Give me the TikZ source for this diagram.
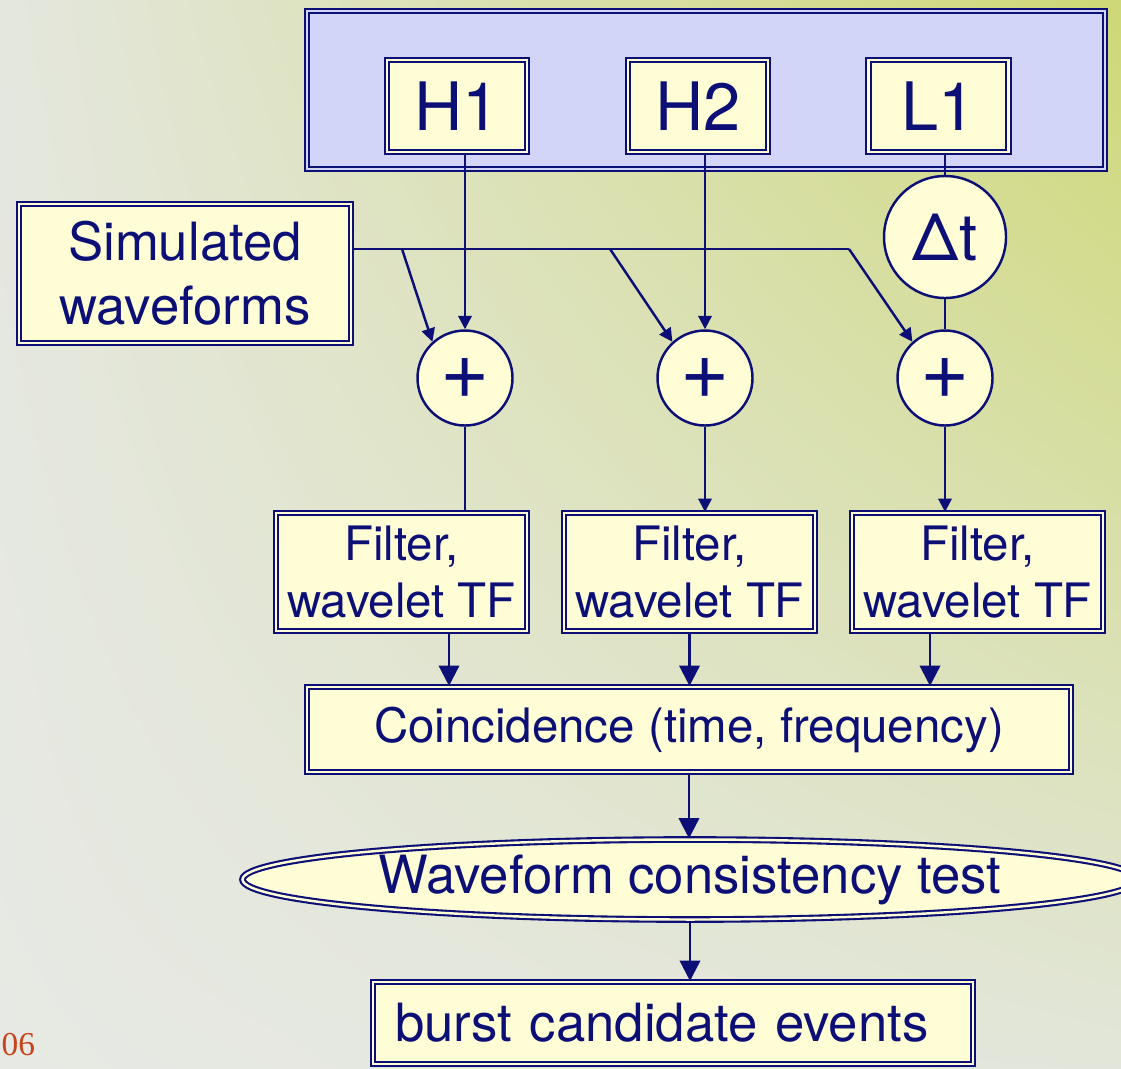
\documentclass[tikz,border=0pt]{standalone}
\usepackage{fontspec}
\setmainfont{TeX Gyre Heros}
\newfontfamily\datefont{Liberation Serif}
\usetikzlibrary{arrows.meta,shapes.geometric,shadings}

\definecolor{linenavy}{RGB}{12,16,118}
\definecolor{boxcream}{RGB}{255,253,214}
\definecolor{netlav}{RGB}{211,213,248}
\definecolor{bgul}{RGB}{228,231,222}
\definecolor{bgur}{RGB}{206,216,118}
\definecolor{bgll}{RGB}{231,233,228}
\definecolor{bglr}{RGB}{226,230,218}
\definecolor{datered}{RGB}{200,68,30}

\newcommand{\detfont}{\fontsize{19}{22}\selectfont}
\newcommand{\simfont}{\fontsize{15}{18.2}\selectfont}
\newcommand{\filtfont}{\fontsize{13.5}{16}\selectfont}
\newcommand{\opfont}{\fontsize{18.5}{22}\selectfont}
\newcommand{\plusfont}{\fontsize{24}{26}\selectfont}

\tikzset{
  dbox/.style={draw=linenavy, line width=0.6pt, double=boxcream, double distance=0.7pt,
    fill=boxcream, text=linenavy, inner sep=0pt},
  sumnode/.style={circle, draw=linenavy, line width=0.7pt, fill=boxcream,
    text=linenavy, inner sep=0pt},
  wire/.style={draw=linenavy, line width=0.7pt},
  smallarrow/.style={wire, -{Triangle[width=3.8pt,length=3.8pt]}},
  bigarrow/.style={wire, -{Triangle[width=5.8pt,length=5.8pt]}},
}

\begin{document}
\begin{tikzpicture}
\useasboundingbox (0,0) rectangle (11.21,-10.68);
% Background
\shade[upper left=bgul, upper right=bgur, lower left=bgll, lower right=bglr]
  (0,0) rectangle (11.21,-10.68);

% Detector network
\node[dbox, fill=netlav, double=netlav, minimum width=7.98cm, minimum height=1.58cm] (net) at (7.06,-0.90) {};
\node[dbox, minimum width=1.40cm, minimum height=0.92cm, font=\detfont] (h1) at (4.57,-1.06) {H1};
\node[dbox, minimum width=1.40cm, minimum height=0.92cm, font=\detfont] (h2) at (6.98,-1.06) {H2};
\node[dbox, minimum width=1.40cm, minimum height=0.92cm, font=\detfont] (l1) at (9.385,-1.06) {L1};

% Time shift and injections
\node[sumnode, minimum size=1.22cm, font=\opfont] (dt) at (9.45,-2.37) {Δt};
\node[dbox, minimum width=3.32cm, minimum height=1.39cm, align=center, font=\simfont] (sim) at (1.85,-2.735) {Simulated\\waveforms};
\foreach \i/\x in {1/4.65,2/7.05,3/9.45}
    \node[sumnode, minimum size=0.95cm, font=\plusfont] (p\i) at (\x,-3.78) {+};

% Filters
\foreach \i/\x in {1/4.015,2/6.895,3/9.775}
    \node[dbox, minimum width=2.51cm, minimum height=1.18cm, align=center, font=\filtfont] (f\i) at (\x,-5.72) {Filter,\\wavelet TF};

% Coincidence and follow-up
\node[dbox, minimum width=7.64cm, minimum height=0.85cm, font=\filtfont] (co) at (6.89,-7.295) {Coincidence (time, frequency)};
\node[dbox, ellipse, minimum width=8.95cm, minimum height=0.80cm, font=\simfont] (wf) at (6.90,-8.795) {Waveform consistency test};
\node[dbox, inner xsep=0.22cm, text width=5.56cm, align=left, minimum height=0.82cm, font=\simfont] (out) at (6.73,-10.23) {burst candidate events};

% Date
\node[anchor=west, inner sep=0pt, text=datered, font=\datefont\fontsize{9.5}{11}\selectfont] (date) at (0.01,-10.45) {06};

% Detector channels
\draw[smallarrow] (h1.south -| p1) -- (p1);
\draw[smallarrow] (h2.south -| p2) -- (p2);
\draw[wire] (l1.south -| dt) -- (dt);
\draw[wire] (dt) -- (p3);

% Injection bus
\coordinate (b1) at (4.02,-2.49);
\coordinate (b2) at (6.10,-2.49);
\coordinate (b3) at (8.49,-2.49);
\draw[wire] (sim.east |- b3) -- (b3);
\foreach \i in {1,2,3}
    \draw[smallarrow] (b\i) -- (p\i.132);

% Into filters
\draw[wire] (p1) -- (p1 |- f1.north);
\draw[smallarrow] (p2) -- (p2 |- f2.north);
\draw[smallarrow] (p3) -- (p3 |- f3.north);

% Into coincidence
\foreach \i/\dx in {1/0.475,2/0,3/-0.475}
    \draw[bigarrow] ([xshift=\dx cm]f\i.south) -- ([xshift=\dx cm]f\i.south |- co.north);

% Final chain
\draw[bigarrow] (co) -- (co |- wf.north);
\draw[bigarrow] (wf) -- (wf |- out.north);
\end{tikzpicture}
\end{document}
